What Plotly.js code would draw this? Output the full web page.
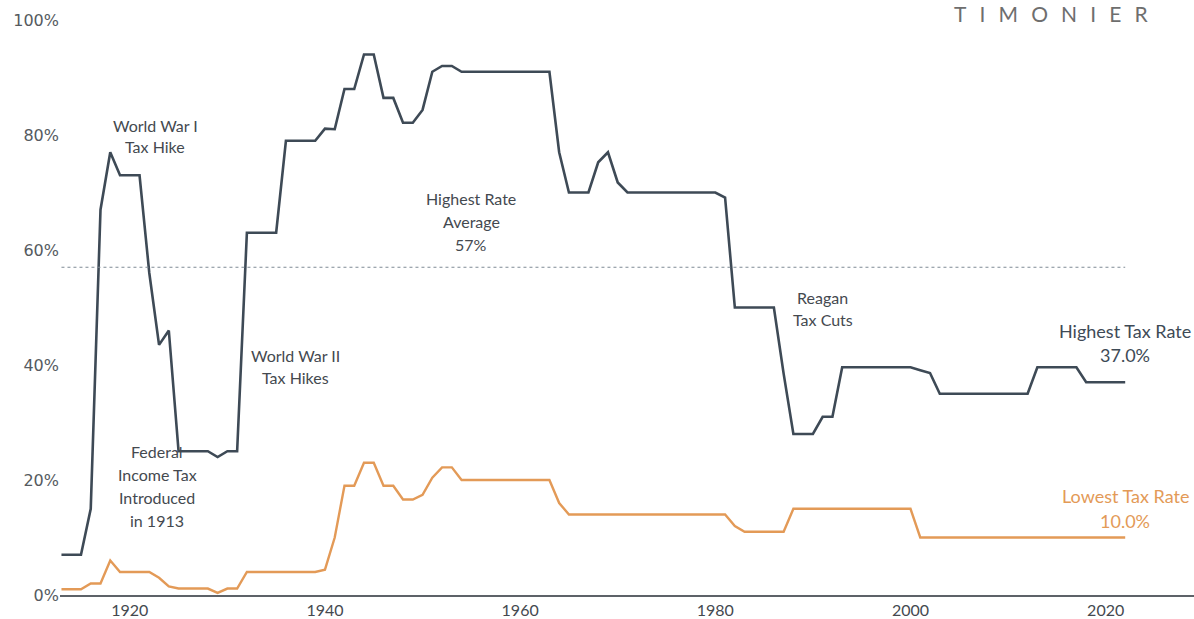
<!DOCTYPE html>
<html>
<head>
<meta charset="utf-8">
<script src="https://cdn.plot.ly/plotly-3.0.1.min.js"></script>
<style>
  html, body { margin: 0; padding: 0; background: #ffffff; }
  #chart { width: 1194px; height: 619px; }
</style>
</head>
<body>
<div id="chart"></div>
<script>
// ---- Data ----
const years = [
  1913, 1914, 1915, 1916, 1917, 1918, 1919, 1920, 1921, 1922,
  1923, 1924, 1925, 1926, 1927, 1928, 1929, 1930, 1931, 1932,
  1933, 1934, 1935, 1936, 1937, 1938, 1939, 1940, 1941, 1942,
  1943, 1944, 1945, 1946, 1947, 1948, 1949, 1950, 1951, 1952,
  1953, 1954, 1955, 1956, 1957, 1958, 1959, 1960, 1961, 1962,
  1963, 1964, 1965, 1966, 1967, 1968, 1969, 1970, 1971, 1972,
  1973, 1974, 1975, 1976, 1977, 1978, 1979, 1980, 1981, 1982,
  1983, 1984, 1985, 1986, 1987, 1988, 1989, 1990, 1991, 1992,
  1993, 1994, 1995, 1996, 1997, 1998, 1999, 2000, 2001, 2002,
  2003, 2004, 2005, 2006, 2007, 2008, 2009, 2010, 2011, 2012,
  2013, 2014, 2015, 2016, 2017, 2018, 2019, 2020, 2021, 2022
];

const highestRate = [
  7, 7, 7, 15, 67, 77, 73, 73, 73, 56,
  43.5, 46, 25, 25, 25, 25, 24, 25, 25, 63,
  63, 63, 63, 79, 79, 79, 79, 81.1, 81, 88,
  88, 94, 94, 86.45, 86.45, 82.13, 82.13, 84.36, 91, 92,
  92, 91, 91, 91, 91, 91, 91, 91, 91, 91,
  91, 77, 70, 70, 70, 75.25, 77, 71.75, 70, 70,
  70, 70, 70, 70, 70, 70, 70, 70, 69.13, 50,
  50, 50, 50, 50, 38.5, 28, 28, 28, 31, 31,
  39.6, 39.6, 39.6, 39.6, 39.6, 39.6, 39.6, 39.6, 39.1, 38.6,
  35, 35, 35, 35, 35, 35, 35, 35, 35, 35,
  39.6, 39.6, 39.6, 39.6, 39.6, 37, 37, 37, 37, 37
];

const lowestRate = [
  1, 1, 1, 2, 2, 6, 4, 4, 4, 4,
  3, 1.5, 1.125, 1.125, 1.125, 1.125, 0.375, 1.125, 1.125, 4,
  4, 4, 4, 4, 4, 4, 4, 4.4, 10, 19,
  19, 23, 23, 19, 19, 16.6, 16.6, 17.4, 20.4, 22.2,
  22.2, 20, 20, 20, 20, 20, 20, 20, 20, 20,
  20, 16, 14, 14, 14, 14, 14, 14, 14, 14,
  14, 14, 14, 14, 14, 14, 14, 14, 14, 12,
  11, 11, 11, 11, 11, 15, 15, 15, 15, 15,
  15, 15, 15, 15, 15, 15, 15, 15, 10, 10,
  10, 10, 10, 10, 10, 10, 10, 10, 10, 10,
  10, 10, 10, 10, 10, 10, 10, 10, 10, 10
];

const highestAverage = 57;

const yTickVals = [0, 20, 40, 60, 80, 100];
const yTickText = ["0%", "20%", "40%", "60%", "80%", "100%"];
const xTickVals = [1920, 1940, 1960, 1980, 2000, 2020];
const xTickText = ["1920", "1940", "1960", "1980", "2000", "2020"];

// ---- Styles ----
const DARK = "#3e4a56";
const ORANGE = "#e39a57";
const TEXT = "#44494f";
const FONT = "Lato, 'Open Sans', sans-serif";

const lastYear = years[years.length - 1];
const lastHigh = highestRate[highestRate.length - 1];
const lastLow = lowestRate[lowestRate.length - 1];

const traces = [
  {
    x: years, y: highestRate, type: "scatter", mode: "lines",
    name: "Highest Tax Rate",
    line: { color: DARK, width: 2.6 },
    hoverinfo: "x+y"
  },
  {
    x: years, y: lowestRate, type: "scatter", mode: "lines",
    name: "Lowest Tax Rate",
    line: { color: ORANGE, width: 2.4 },
    hoverinfo: "x+y"
  }
];

// one annotation per text line, so the line spacing matches the reference
function note(x, y, lines, color, size, gap) {
  const n = lines.length;
  const g = gap || 23;
  return lines.map((t, i) => ({
    x: x, y: y, xref: "x", yref: "y", text: t, showarrow: false,
    xanchor: "center", yanchor: "middle", align: "center",
    yshift: ((n - 1) / 2 - i) * g,
    font: { family: FONT, size: size || 16, color: color || TEXT }
  }));
}

const annotations = [].concat(
  note(1922.6, 79.9, ["World War I", "Tax Hike"], TEXT, 16, 21),
  note(1937.0, 39.8, ["World War II", "Tax Hikes"], TEXT, 16, 22),
  note(1955.0, 65.0, ["Highest Rate", "Average", highestAverage + "%"]),
  note(1991.0, 49.9, ["Reagan", "Tax Cuts"], TEXT, 16, 22),
  note(1922.8, 18.9, ["Federal", "Income Tax", "Introduced", "in 1913"]),
  note(lastYear, 43.8, ["Highest Tax Rate", lastHigh.toFixed(1) + "%"], DARK, 18, 24),
  note(lastYear, 15.0, ["Lowest Tax Rate", lastLow.toFixed(1) + "%"], ORANGE, 18, 25),
  [{
    x: 0.874, y: 1.0345, xref: "paper", yref: "paper",
    text: "T\u2002\u2009I\u2002\u2009M\u2002\u2009O\u2002\u2009N\u2002\u2009I\u2002\u2009E\u2002\u2009R",
    showarrow: false, xanchor: "center", yanchor: "top", borderpad: 0,
    font: { family: FONT, size: 21, color: "#6e6e6e" }
  }]
);

const layout = {
  width: 1194, height: 619,
  margin: { l: 60, r: 0, t: 20, b: 24 },
  paper_bgcolor: "#ffffff", plot_bgcolor: "#ffffff",
  showlegend: false,
  font: { family: FONT, color: TEXT },
  xaxis: {
    range: [1912.85, 2029.05],
    tickvals: xTickVals, ticktext: xTickText,
    showgrid: false, zeroline: false,
    showline: true, linecolor: "#5d6268", linewidth: 1.5,
    ticks: "", ticklen: 0,
    tickfont: { family: FONT, size: 16, color: TEXT },
    fixedrange: true
  },
  yaxis: {
    range: [0, 100],
    tickvals: yTickVals, ticktext: yTickText,
    showgrid: false, zeroline: false, showline: false,
    ticks: "",
    tickfont: { family: "'DejaVu Sans', sans-serif", size: 16, color: "#555a60" },
    fixedrange: true
  },
  shapes: [
    {
      type: "line", xref: "x", yref: "y",
      x0: years[0], x1: lastYear, y0: highestAverage, y1: highestAverage,
      line: { color: "#7f8a95", width: 1.2, dash: "3px,3px" }
    }
  ],
  annotations: annotations
};

Plotly.newPlot("chart", traces, layout, { displayModeBar: false, staticPlot: true });
</script>
</body>
</html>
